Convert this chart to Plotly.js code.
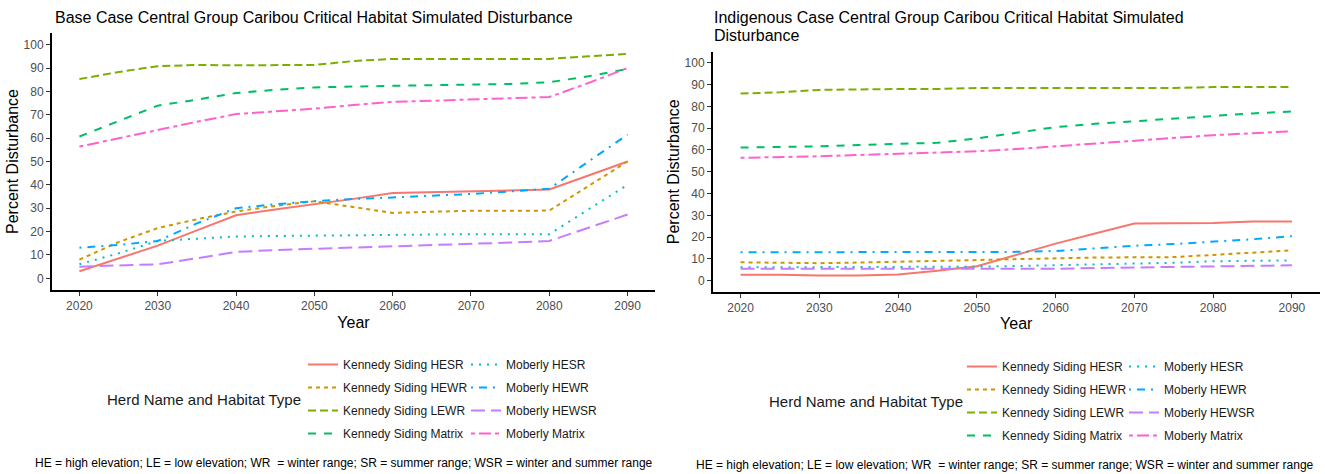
<!DOCTYPE html>
<html>
<head>
<meta charset="utf-8">
<script src="https://cdn.plot.ly/plotly-3.0.1.min.js"></script>
<style>
  html, body { margin: 0; padding: 0; background: #ffffff; }
  #chart { width: 1325px; height: 474px; }
</style>
</head>
<body>
<div id="chart"></div>
<script>
// Simulation years (5-year steps)
const years = [2020, 2025, 2030, 2035, 2040, 2045, 2050, 2055, 2060, 2065, 2070, 2075, 2080, 2085, 2090];

// Series names, colours and line types (legend order)
const seriesNames = [
  "Kennedy Siding HESR", "Kennedy Siding HEWR", "Kennedy Siding LEWR", "Kennedy Siding Matrix",
  "Moberly HESR", "Moberly HEWR", "Moberly HEWSR", "Moberly Matrix"
];
const seriesColors = ["#F8766D", "#CD9600", "#7CAE00", "#00BE67", "#00BFC4", "#00A9FF", "#C77CFF", "#FF61CC"];
const seriesDash = ["solid", "4px,4px", "8px,4px", "8px,8px", "2px,6px", "2px,6px,8px,6px", "14px,6px", "4px,4px,12px,4px"];

// Base case: percent disturbance
const baseKSHESR   = [3, 8.5, 14, 20.5, 27, 29.5, 31.7, 34, 36.5, 36.8, 37.1, 37.5, 38, 44, 50];
const baseKSHEWR   = [8, 15.5, 21.5, 25.3, 28.6, 31, 33, 30.4, 28, 28.5, 28.9, 28.9, 29, 39.5, 50];
const baseKSLEWR   = [85.3, 88.3, 90.8, 91.3, 91.2, 91.2, 91.3, 93, 93.9, 93.9, 93.9, 93.9, 93.9, 95, 96.1];
const baseKSMatrix = [60.7, 67.4, 73.9, 76.5, 79.3, 80.7, 81.7, 82.1, 82.4, 82.7, 82.9, 83.2, 83.9, 86.5, 89.6];
const baseMobHESR   = [6, 10.7, 16, 17.1, 17.9, 18.1, 18.3, 18.5, 18.6, 18.8, 18.9, 18.9, 18.9, 29.5, 40];
const baseMobHEWR   = [13.1, 14.3, 16, 23.5, 30, 31.7, 33, 34, 34.6, 35.3, 36.1, 37.2, 38.3, 50, 61.5];
const baseMobHEWSR  = [5, 5.4, 6, 8.6, 11.3, 12.1, 12.6, 13.2, 13.9, 14.3, 14.7, 15.3, 16, 21.5, 27.3];
const baseMobMatrix = [56.4, 60, 63.6, 67, 70.3, 71.4, 72.6, 74.2, 75.5, 76, 76.5, 77, 77.6, 83.6, 90];

// Indigenous case: percent disturbance
const indKSHESR   = [2.7, 2.7, 2.3, 2.3, 2.8, 4.5, 6.6, 11.8, 17, 21.6, 26.2, 26.3, 26.5, 27.1, 27.1];
const indKSHEWR   = [8.4, 8.1, 8.0, 8.3, 8.7, 9.1, 9.5, 10, 10.4, 10.6, 10.7, 10.8, 11.8, 12.9, 13.9];
const indKSLEWR   = [85.9, 86.5, 87.6, 87.9, 88.0, 88.0, 88.5, 88.5, 88.5, 88.5, 88.5, 88.5, 88.9, 88.9, 88.9];
const indKSMatrix = [61.1, 61.3, 61.7, 62.3, 62.7, 63.3, 65.3, 68, 70.5, 72, 73.2, 74.5, 75.9, 76.8, 77.7];
const indMobHESR   = [6.1, 6.1, 6.1, 6.1, 6.1, 6.2, 6.4, 6.7, 7.0, 7.3, 7.6, 8.2, 8.9, 9.1, 9.3];
const indMobHEWR   = [13, 13, 13, 13, 13, 13, 13, 13.2, 13.6, 14.8, 16, 16.8, 17.8, 19, 20.4];
const indMobHEWSR  = [5.4, 5.4, 5.3, 5.3, 5.3, 5.4, 5.5, 5.4, 5.4, 5.8, 6.1, 6.3, 6.6, 6.9, 7.0];
const indMobMatrix = [56.4, 56.6, 57.1, 57.7, 58.3, 58.8, 59.4, 60.4, 61.7, 63, 64.5, 65.6, 66.8, 67.7, 68.6];

// Tick labels
const xTicks = [2020, 2030, 2040, 2050, 2060, 2070, 2080, 2090];
const yTicks = [0, 10, 20, 30, 40, 50, 60, 70, 80, 90, 100];

const baseSeries = [baseKSHESR, baseKSHEWR, baseKSLEWR, baseKSMatrix, baseMobHESR, baseMobHEWR, baseMobHEWSR, baseMobMatrix];
const indSeries  = [indKSHESR, indKSHEWR, indKSLEWR, indKSMatrix, indMobHESR, indMobHEWR, indMobHEWSR, indMobMatrix];

const W = 1325, H = 474;
const px = v => v / W;          // pixel x -> paper
const py = v => 1 - v / H;      // pixel y -> paper

function makeTraces(series, xa, ya, legA, legB) {
  return series.map((vals, i) => ({
    type: "scatter",
    mode: "lines",
    x: years,
    y: vals,
    xaxis: xa,
    yaxis: ya,
    name: seriesNames[i],
    legend: i < 4 ? legA : legB,
    legendgroup: xa + "-" + i,
    line: { color: seriesColors[i], width: 2, dash: seriesDash[i] },
    hoverinfo: "x+y+name"
  }));
}

const traces = [
  ...makeTraces(baseSeries, "x", "y", "legend", "legend2"),
  ...makeTraces(indSeries, "x2", "y2", "legend3", "legend4")
];

const tickFont = { family: "Liberation Sans, Arial, sans-serif", size: 12, color: "#4D4D4D" };
const titleFont = { family: "Liberation Sans, Arial, sans-serif", size: 16, color: "#000000" };

function xAxis(domain, anchor) {
  return {
    domain: domain, anchor: anchor,
    range: [2016.5, 2093.5],
    tickmode: "array", tickvals: xTicks, ticktext: xTicks.map(String),
    showgrid: false, zeroline: false,
    showline: true, linecolor: "#000000", linewidth: 2,
    ticks: "outside", ticklen: 4, tickwidth: 1, tickcolor: "#333333",
    tickfont: tickFont,
    title: { text: "Year", font: titleFont, standoff: 4 }
  };
}
function yAxis(domain, anchor) {
  return {
    domain: domain, anchor: anchor,
    range: [-5, 105],
    tickmode: "array", tickvals: yTicks, ticktext: yTicks.map(String),
    showgrid: false, zeroline: false,
    showline: true, linecolor: "#000000", linewidth: 2,
    ticks: "outside", ticklen: 4, tickwidth: 1, tickcolor: "#333333",
    tickfont: tickFont,
    title: { text: "Percent Disturbance", font: titleFont, standoff: 1 }
  };
}

function legendAt(xPix, yPix) {
  return {
    x: px(xPix), y: py(yPix), xanchor: "left", yanchor: "top",
    orientation: "v", bgcolor: "rgba(0,0,0,0)", borderwidth: 0,
    font: { family: "Liberation Sans, Arial, sans-serif", size: 12, color: "#1a1a1a" },
    tracegroupgap: 4, itemclick: false, itemdoubleclick: false
  };
}

const legendTitleFont = { family: "Liberation Sans, Arial, sans-serif", size: 15, color: "#1a1a1a" };
const noteFont = { family: "Liberation Sans, Arial, sans-serif", size: 12, color: "#000000" };
const noteText = "HE = high elevation; LE = low elevation; WR \u00a0= winter range; SR = summer range; WSR = winter and summer range";

const layout = {
  width: W, height: H,
  margin: { l: 0, r: 0, t: 0, b: 0 },
  paper_bgcolor: "#ffffff", plot_bgcolor: "#ffffff",
  showlegend: true,
  xaxis: xAxis([px(52), px(655)], "y"),
  yaxis: yAxis([py(290), py(33)], "x"),
  xaxis2: xAxis([px(713), px(1319.5)], "y2"),
  yaxis2: yAxis([py(291.5), py(52)], "x2"),
  legend: legendAt(303, 350),
  legend2: legendAt(466, 350),
  legend3: legendAt(962, 352),
  legend4: legendAt(1124, 352),
  annotations: [
    { text: "Base Case Central Group Caribou Critical Habitat Simulated Disturbance",
      xref: "paper", yref: "paper", x: px(53), y: py(17), xanchor: "left", yanchor: "middle",
      showarrow: false, font: titleFont },
    { text: "Indigenous Case Central Group Caribou Critical Habitat Simulated",
      xref: "paper", yref: "paper", x: px(712), y: py(17), xanchor: "left", yanchor: "middle",
      showarrow: false, font: titleFont },
    { text: "Disturbance",
      xref: "paper", yref: "paper", x: px(712), y: py(36), xanchor: "left", yanchor: "middle",
      showarrow: false, font: titleFont },
    { text: "Herd Name and Habitat Type",
      xref: "paper", yref: "paper", x: px(303), y: py(399), xanchor: "right", yanchor: "middle",
      showarrow: false, font: legendTitleFont },
    { text: "Herd Name and Habitat Type",
      xref: "paper", yref: "paper", x: px(965), y: py(401), xanchor: "right", yanchor: "middle",
      showarrow: false, font: legendTitleFont },
    { text: noteText,
      xref: "paper", yref: "paper", x: px(33), y: py(463), xanchor: "left", yanchor: "middle",
      showarrow: false, font: noteFont },
    { text: noteText,
      xref: "paper", yref: "paper", x: px(694), y: py(465), xanchor: "left", yanchor: "middle",
      showarrow: false, font: noteFont }
  ]
};

Plotly.newPlot("chart", traces, layout, { staticPlot: true, displayModeBar: false });
</script>
</body>
</html>
